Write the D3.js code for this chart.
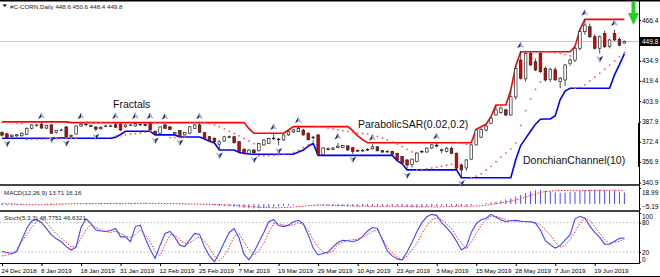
<!DOCTYPE html>
<html>
<head>
<meta charset="utf-8">
<script src="https://d3js.org/d3.v7.min.js"></script>
<style>
  body { margin: 0; background: #fff; }
  svg { display: block; font-family: "Liberation Sans", Arial, sans-serif; }
</style>
</head>
<body>
<svg id="chart" width="660" height="277"></svg>

<script>
// ---- DATA ----
// daily bars, 24 Dec 2018 .. 27 Jun 2019
const open = [379.5, 378.5, 376.5, 377, 377, 378, 382.8, 385.2, 386, 383,
  385.4, 379.5, 381.5, 383.9, 376.5, 378.4, 384.6, 386, 384.8, 383.8,
  382.5, 384.2, 384.6, 385.5, 386, 384, 385.2, 384.6, 385.6, 385.8,
  386.2, 380.5, 379, 385.4, 383.9, 378.5, 381, 377.7, 379, 382.8,
  385.4, 379.4, 376.3, 375.1, 370.5, 373, 376.3, 376.3, 372.5, 366.6,
  363.5, 366, 365.5, 370, 371.2, 375, 374.5, 373.8, 377.7, 380,
  380.2, 381.5, 379, 375.5, 377.7, 362.5, 367, 366.5, 368, 368,
  369.2, 367.8, 365.3, 365.5, 366, 367, 368.5, 365.5, 364.6, 365,
  363.5, 361, 358.4, 355, 357.1, 364.5, 364.5, 367.6, 369.8, 365.5,
  365, 367.4, 363.5, 354.5, 352.2, 359, 370, 376, 381.5, 386.7,
  393.1, 395, 397, 393.1, 407, 435.5, 421, 440.5, 434.2, 440.5,
  429.1, 420.5, 428, 419, 420.1, 433, 435.5, 444.6, 457.4, 461.2,
  453.5, 444.6, 456.1, 446, 456, 451.5, 448.6];
const high = [380.5, 379.5, 378, 378.5, 379.5, 383.5, 386, 386.2, 387.2, 385.5,
  386, 381.5, 382.5, 384.5, 378, 385, 387, 386.5, 385.8, 384.5,
  384.5, 385.6, 385.8, 387.2, 386.5, 385.8, 386, 387.2, 386.3, 386.5,
  387.2, 381.2, 384.2, 386.8, 384.5, 380, 381.5, 380, 384.5, 386,
  387, 380, 377, 375.8, 373.5, 377, 377.2, 377, 373, 367.5,
  366.8, 366.8, 371.5, 374.2, 375.5, 378.8, 375.5, 378, 380.5, 382,
  384.1, 382.5, 379.8, 377, 378.2, 368.2, 368, 368.5, 371.5, 370,
  369.8, 368.5, 366.5, 366.8, 367.5, 370.5, 369, 366.2, 366, 365.5,
  364, 361.5, 359, 359.5, 364.3, 366, 368, 370.5, 371.7, 367.2,
  368.5, 368.8, 364.2, 355.5, 359, 370.8, 382, 383, 386, 391.8,
  400.8, 399.5, 398, 412.4, 431, 441.9, 441.5, 441.8, 436.5, 441.6,
  430.5, 429.5, 430, 422.5, 432.5, 437, 446, 459, 466.9, 463.8,
  455.5, 454.5, 458, 452, 459, 453, 450.6];
const low = [376.5, 375.1, 375.8, 376.2, 376.5, 377.5, 382, 384, 382.5, 382,
  378.5, 378.8, 380.5, 375.6, 376, 378, 384, 384.5, 383.8, 380.5,
  381.8, 383.5, 383.8, 383, 380.8, 383.2, 384.5, 384, 384.8, 384.2,
  381, 377.7, 378.5, 382.5, 381.5, 378, 376.1, 377.2, 378.5, 382.5,
  379.2, 374.5, 372.8, 371.5, 366.1, 372.5, 375.5, 371, 364.2, 363.3,
  363, 362.8, 365, 369.5, 370.8, 373.8, 369.5, 373.2, 377, 379.3,
  379.8, 377.2, 373.5, 374.5, 361.9, 362.2, 365.8, 366, 367.5, 367.5,
  365.6, 363, 364.5, 364.8, 365.2, 366.5, 365, 363.8, 364, 362.3,
  357.8, 355.4, 350.7, 352.5, 356.5, 363.5, 364, 366.8, 368.2, 363.5,
  364.2, 362.8, 351.5, 344.7, 350, 358.5, 369.5, 375, 380.5, 386,
  392.5, 394, 392, 392.5, 405, 420.5, 419, 431, 427, 425.5,
  419, 418.5, 419.5, 413.7, 415.5, 431, 434, 443, 455, 452.5,
  443.5, 440.5, 444.8, 444.5, 450, 446, 448.4];
const close = [377.5, 375.8, 377.5, 377.8, 379, 382.8, 385.4, 385.4, 383, 385,
  379, 381, 381.5, 376.3, 377.3, 384.6, 386, 385.6, 384.6, 382.2,
  383.6, 384.6, 384.4, 383.6, 381.5, 385.4, 385.4, 386.2, 385.8, 385,
  381.5, 378.2, 383.9, 382.8, 382, 379.5, 376.3, 379.5, 384, 385.4,
  379.8, 375.1, 373.2, 372.5, 372.5, 376.3, 376.1, 371.7, 364.8, 363.5,
  366, 364, 371.2, 373.8, 375, 375.2, 374, 377.7, 380.2, 381.5,
  382.8, 377.7, 374, 376, 362.5, 367.6, 366.5, 367.5, 369, 369.5,
  366.1, 365, 365.6, 365.8, 366.5, 368.5, 365.5, 364.5, 365, 362.8,
  358.4, 355.9, 354.5, 359, 363.7, 365, 367.5, 370, 369, 366.3,
  367.4, 363.5, 352, 350.7, 358.4, 370, 381.5, 382, 384.6, 390.6,
  397, 398.5, 393.1, 407.2, 429, 421.4, 440.5, 431.7, 427.8, 426.5,
  420.1, 428.5, 420.2, 421.4, 431.7, 435.5, 444.6, 457.4, 462.5, 453.5,
  444.6, 453.5, 445.8, 451, 451, 447, 449.8];

// Donchian channel (10)
const donchianUpper = [387.8, 387.8, 387.8, 387.8, 387.8, 387.8, 387.8, 387.8, 387.8, 387.8,
  387.8, 387.8, 387.8, 387.8, 387.2, 387.2, 387.2, 387.2, 387.2, 387.2,
  387.2, 387.2, 387.2, 387.2, 387.2, 387.2, 387.2, 387.2, 387.2, 387.2,
  387.2, 387.2, 387.2, 387.2, 387.2, 387.2, 387.2, 387.2, 387.2, 387.2,
  387.2, 387.2, 387.2, 387.2, 387.2, 387.2, 387.2, 387.2, 387.2, 387.2,
  382.5, 379, 379, 379, 379, 379, 379, 379, 381.5, 384.1,
  384.1, 384.1, 384.1, 384.1, 384.1, 384.1, 384.1, 384.1, 384.1, 384.1,
  384.1, 381, 377, 374, 371.7, 371.7, 371.7, 371.7, 371.7, 371.7,
  371.7, 371.7, 371.7, 371.7, 371.7, 371.7, 371.7, 371.7, 371.7, 371.7,
  371.7, 371.7, 371.7, 371.7, 371.7, 371.7, 382, 384, 386, 391.8,
  400.8, 400.8, 400.8, 412.4, 431, 441.9, 441.9, 441.9, 441.9, 441.9,
  441.9, 441.9, 441.9, 441.9, 441.9, 441.9, 446, 459, 466.9, 466.9,
  466.9, 466.9, 466.9, 466.9, 466.9, 466.9, 466.9];
const donchianLower = [375.1, 375.1, 375.1, 375.1, 375.1, 375.1, 375.1, 375.1, 375.1, 375.1,
  375.1, 375.1, 375.5, 375.1, 375.1, 375.1, 375.1, 375.1, 375.1, 375.1,
  375.1, 375.1, 375.1, 376, 378, 380.5, 380.5, 380.5, 380.5, 380.5,
  380.5, 377.7, 377.7, 377.7, 377.7, 377.7, 376.1, 376.1, 376.1, 376.1,
  376.1, 374.5, 372.8, 371.5, 366.1, 366.1, 366.1, 366.1, 364.2, 363.3,
  363, 362.8, 362.8, 362.8, 362.8, 362.8, 362.8, 362.8, 362.8, 362.8,
  364.5, 366, 369, 371.2, 361.9, 361.9, 361.9, 361.9, 361.9, 361.9,
  361.9, 361.9, 361.9, 361.9, 361.9, 361.9, 361.9, 361.9, 361.9, 361.9,
  357.8, 355.4, 350.7, 350.7, 350.7, 350.7, 350.7, 350.7, 350.7, 350.7,
  350.7, 350.7, 350.7, 344.7, 344.7, 344.7, 344.7, 344.7, 344.7, 344.7,
  344.7, 344.7, 344.7, 344.7, 358.5, 369.5, 375, 380.5, 386, 389.8,
  390, 390, 392.5, 405, 411.6, 413.7, 413.7, 413.7, 413.7, 413.7,
  413.7, 413.7, 413.7, 413.7, 424, 432, 440.5];

// Parabolic SAR (0.02, 0.2)
const sar = [387.4, 387.2, 387.0, 386.8, 386.6, 374.2, 374.3, 374.4, 374.5, 374.6,
  374.7, 374.8, 374.9, 375.0, 375.0, 375.1, 387.6, 387.5, 387.4, 387.3,
  387.2, 387.1, 387.0, 376.8, 377.2, 377.7, 378.2, 378.7, 379.2, 379.7,
  380.2, 387.4, 387.3, 387.2, 375.6, 375.7, 375.8, 376.0, 387.5, 387.4,
  387.3, 387.0, 386.4, 385.4, 384.0, 382.4, 380.6, 378.8, 377.0, 375.0,
  373.0, 371.0, 361.5, 361.6, 361.8, 362.0, 362.3, 362.7, 363.3, 364.3,
  365.8, 367.8, 370.2, 372.8, 384.1, 383.7, 383.0, 382.3, 381.6, 381.0,
  380.4, 379.8, 379.1, 378.8, 378.5, 377.5, 376.5, 375.2, 373.8, 372.3,
  370.6, 368.6, 366.5, 364.6, 350.7, 351.1, 351.6, 352.2, 352.9, 353.6,
  354.3, 355.0, 371.7, 371.2, 370.5, 344.7, 345.9, 347.8, 350.5, 353.5,
  357.0, 360.5, 363.8, 367.0, 371.5, 385.0, 396.4, 405.5, 412.8, 418.6,
  441.9, 441.5, 441.1, 440.7, 439.7, 438.6, 413.7, 414.4, 416.3, 419.3,
  422.3, 425.3, 428.4, 431.6, 434.8, 438.1, 441.3];

// Fractals (bar numbers)
const upFractals = [8, 16, 23, 27, 30, 33, 40, 55, 60, 68, 75, 88, 105, 118, 124];
const downFractals = [1, 10, 13, 19, 31, 36, 44, 51, 56, 71, 82, 93, 121];

// MACD (12,26,9)
const macdMain = [-1.5, -1.6, -1.5, -1.3, -1.0, -0.6, -0.2, 0.2, 0.5, 0.7,
  0.8, 0.7, 0.6, 0.4, 0.3, 0.4, 0.6, 0.8, 0.9, 0.9,
  0.9, 0.9, 0.9, 1.0, 0.9, 0.9, 1.0, 1.0, 1.1, 0.9,
  0.6, 0.3, 0.3, 0.4, 0.2, -0.1, -0.4, -0.4, -0.2, 0.1,
  0.2, -0.3, -0.9, -1.5, -2.2, -2.5, -2.6, -3.0, -3.8, -4.5,
  -5.0, -5.19, -5.0, -4.5, -3.9, -3.3, -2.8, -2.2, -1.6, -0.9,
  -0.3, -0.1, -0.2, -0.3, -1.2, -1.8, -2.2, -2.4, -2.5, -2.6,
  -2.7, -2.8, -2.8, -2.8, -2.7, -2.6, -2.5, -2.4, -2.4, -2.4,
  -2.6, -3.0, -3.5, -4.0, -4.0, -3.7, -3.3, -2.8, -2.4, -2.1,
  -2.0, -2.0, -2.5, -3.0, -2.6, -1.6, -0.6, 0.3, 1.2, 2.0,
  2.9, 4.0, 5.3, 7.0, 8.8, 10.7, 13.2, 15.0, 16.4, 16.6,
  16.0, 14.9, 14.0, 13.4, 13.7, 14.1, 14.6, 15.5, 16.6, 17.3,
  17.4, 16.9, 16.6, 16.4, 16.0, 14.9, 13.71];
const macdSignal = [0.6, 0.4, 0.2, 0.0, -0.3, -0.5, -0.7, -0.8, -0.8, -0.7,
  -0.5, -0.3, -0.1, 0.1, 0.3, 0.4, 0.5, 0.5, 0.6, 0.6,
  0.7, 0.7, 0.8, 0.8, 0.8, 0.9, 0.9, 0.9, 0.9, 1.0,
  0.9, 0.9, 0.8, 0.7, 0.6, 0.5, 0.4, 0.2, 0.1, 0.0,
  0.0, -0.1, -0.2, -0.4, -0.6, -0.9, -1.2, -1.6, -2.0, -2.4,
  -2.9, -3.3, -3.7, -4.0, -4.2, -4.3, -4.3, -4.1, -3.8, -3.4,
  -2.9, -2.4, -2.0, -1.6, -1.4, -1.3, -1.3, -1.4, -1.6, -1.8,
  -2.0, -2.2, -2.4, -2.5, -2.6, -2.6, -2.7, -2.7, -2.6, -2.6,
  -2.6, -2.6, -2.7, -2.8, -3.0, -3.2, -3.3, -3.3, -3.3, -3.2,
  -3.0, -2.8, -2.6, -2.5, -2.5, -2.4, -2.2, -1.8, -1.2, -0.5,
  0.4, 1.4, 2.5, 3.6, 4.8, 6.4, 8.2, 10.2, 12.2, 13.7,
  14.8, 15.4, 15.8, 16.0, 16.0, 16.0, 15.9, 15.9, 15.9, 16.0,
  16.1, 16.2, 16.3, 16.4, 16.4, 16.3, 16.16];

// Stochastic (5,3,3)
const stochMain = [21, 19, 17, 21, 45, 68, 83, 87, 80, 68,
  55, 47, 41, 31, 24, 30, 70, 88, 78, 65,
  63, 62, 64, 68, 51, 51, 41, 72, 75, 48,
  25, 7, 34, 58, 62, 50, 34, 31, 45, 58,
  56, 30, 12, 0, 18, 40, 60, 68, 48, 15,
  4, 20, 40, 60, 82, 86, 74, 72, 75, 82,
  85, 78, 55, 28, 14, 17, 20, 30, 40, 44,
  43, 41, 44, 52, 63, 70, 68, 45, 22, 12,
  6, 4, 20, 40, 62, 80, 92, 97, 95, 80,
  70, 58, 42, 24, 31, 60, 78, 86, 89, 97,
  91, 86, 82, 84, 85, 83, 82, 82, 79, 65,
  43, 35, 28, 33, 45, 55, 88, 93, 89, 73,
  60, 50, 36, 36, 42, 48, 48.7751];
const stochSignal = [12, 14, 16, 25, 42, 56, 70, 82, 87, 82,
  68, 57, 48, 40, 30, 32, 48, 65, 76, 70,
  66, 62, 60, 63, 58, 52, 50, 55, 65, 55,
  40, 22, 12, 35, 55, 55, 44, 38, 38, 46,
  52, 42, 28, 12, 2, 12, 30, 52, 58, 40,
  25, 14, 22, 38, 60, 78, 78, 75, 74, 76,
  80, 76, 65, 45, 30, 20, 17, 22, 36, 40,
  44, 45, 46, 50, 56, 62, 65, 48, 30, 18,
  10, 4, 12, 24, 38, 58, 74, 86, 90, 86,
  78, 68, 52, 38, 26, 40, 58, 75, 86, 93,
  93, 90, 86, 84, 83, 83, 82, 82, 80, 75,
  65, 55, 40, 30, 34, 45, 62, 78, 90, 84,
  72, 58, 45, 38, 40, 42, 46.6321];

// axis labels
const dateLabels = ["24 Dec 2018", "8 Jan 2019", "18 Jan 2019", "31 Jan 2019", "12 Feb 2019",
  "25 Feb 2019", "7 Mar 2019", "19 Mar 2019", "29 Mar 2019", "10 Apr 2019", "23 Apr 2019",
  "3 May 2019", "15 May 2019", "28 May 2019", "7 Jun 2019", "19 Jun 2019"];
const dateBars = [0, 8, 16, 24, 32, 40, 48, 56, 64, 72, 80, 88, 96, 104, 112, 120];
const priceTicks = [466.4, 434.9, 419.4, 403.9, 387.9, 372.4, 356.9, 340.9];
const lastPrice = 449.8;
const macdTicks = [18.99, -5.19];
const stochTicks = [100, 80, 20, 0];
const stochLevels = [80, 20];

// ---- SETUP ----
const svg = d3.select("#chart");
const plotRight = 639;

const x = d3.scaleLinear().domain([0, 126]).range([2, 624.4]);
const y = d3.scaleLinear().domain([340.9, 466.4]).range([182.6, 20]);
const yMacd = d3.scaleLinear().domain([-5.19, 18.99]).range([208.5, 188]);
const yStoch = d3.scaleLinear().domain([0, 100]).range([261.8, 212.9]);

const bars = open.map((o, i) => ({ i: i, o: o, h: high[i], l: low[i], c: close[i] }));

// frame lines
const frame = svg.append("g");
frame.append("rect").attr("x", 0).attr("y", 0).attr("width", 660).attr("height", 1.5).attr("fill", "#000");
frame.append("line").attr("x1", 0).attr("x2", plotRight).attr("y1", 185).attr("y2", 185)
  .attr("stroke", "#444").attr("stroke-width", 2);
frame.append("line").attr("x1", 0).attr("x2", plotRight).attr("y1", 211).attr("y2", 211)
  .attr("stroke", "#444").attr("stroke-width", 2);
frame.append("line").attr("x1", 0).attr("x2", plotRight).attr("y1", 263.5).attr("y2", 263.5)
  .attr("stroke", "#000");
frame.append("line").attr("x1", 0).attr("x2", 660).attr("y1", 276.5).attr("y2", 276.5)
  .attr("stroke", "#000");
frame.append("line").attr("x1", plotRight + 0.5).attr("x2", plotRight + 0.5).attr("y1", 0).attr("y2", 264)
  .attr("stroke", "#000");
frame.append("rect").attr("x", plotRight - 1).attr("y", 123).attr("width", 2).attr("height", 44).attr("fill", "#000");

// bid line
svg.append("line").attr("x1", 0).attr("x2", plotRight).attr("y1", y(lastPrice)).attr("y2", y(lastPrice))
  .attr("stroke", "#c8c8c8");

// ---- MAIN PANEL ----
const main = svg.append("g");

// Donchian channel
const line = d3.line().x((d, i) => x(i)).y(d => y(d));
main.append("path").attr("d", line(donchianUpper)).attr("fill", "none")
  .attr("stroke", "#ff0000").attr("stroke-width", 1.6);
main.append("path").attr("d", line(donchianLower)).attr("fill", "none")
  .attr("stroke", "#0000ff").attr("stroke-width", 1.6);

// SAR dots
main.selectAll("circle.sar").data(sar).join("circle")
  .attr("class", "sar")
  .attr("cx", (d, i) => x(i)).attr("cy", d => y(d))
  .attr("r", 0.9).attr("fill", "#ff5c5c");

// candles
main.selectAll("line.wick").data(bars).join("line")
  .attr("class", "wick")
  .attr("x1", d => x(d.i)).attr("x2", d => x(d.i))
  .attr("y1", d => y(d.h)).attr("y2", d => y(d.l))
  .attr("stroke", "#222").attr("stroke-width", 0.8);

main.selectAll("rect.body").data(bars).join("rect")
  .attr("class", "body")
  .attr("x", d => x(d.i) - 1.3)
  .attr("y", d => y(Math.max(d.o, d.c)))
  .attr("width", 2.6)
  .attr("height", d => Math.max(0.6, Math.abs(y(d.o) - y(d.c))))
  .attr("fill", d => d.c >= d.o ? "#fff" : "#e00000")
  .attr("stroke", "#222").attr("stroke-width", 0.7);

// fractals
const upArrow = main.selectAll("g.up").data(upFractals).join("g")
  .attr("class", "up")
  .attr("transform", d => `translate(${x(d)}, ${y(high[d]) - 6.5})`);
upArrow.append("path").attr("d", "M0,-3.5 L-3.5,3 L0,1.2 Z").attr("fill", "#1b2a6b");
upArrow.append("path").attr("d", "M0,-3.5 L3.5,3 L0,1.2 Z").attr("fill", "#a9b2d6");

const downArrow = main.selectAll("g.down").data(downFractals).join("g")
  .attr("class", "down")
  .attr("transform", d => `translate(${x(d)}, ${y(low[d]) + 5.5})`);
downArrow.append("path").attr("d", "M0,3.5 L-3.5,-3 L0,-1.2 Z").attr("fill", "#a9b2d6");
downArrow.append("path").attr("d", "M0,3.5 L3.5,-3 L0,-1.2 Z").attr("fill", "#1b2a6b");

// labels on the chart
const notes = svg.append("g").attr("font-size", "10.5px").attr("fill", "#111");
notes.append("text").attr("x", 113).attr("y", 108).text("Fractals");
notes.append("text").attr("x", 358).attr("y", 127.5).text("ParabolicSAR(0.02,0.2)");
notes.append("text").attr("x", 523).attr("y", 163.5).text("DonchianChannel(10)");

// title
svg.append("path").attr("d", "M2.5,4.5 L7,4.5 L4.75,7 Z").attr("fill", "#000");
svg.append("text").attr("x", 10).attr("y", 8.5).attr("font-size", "6.2px").attr("fill", "#222")
  .text("#C-CORN,Daily  448.6 450.6 448.4 449.8");

// green arrow
svg.append("path")
  .attr("d", "M631.5,2 L635.5,2 L635.5,13 L639,13 L633.5,25 L628,13 L631.5,13 Z")
  .attr("fill", "#1fd21f");

// price axis
const priceAxis = svg.append("g").attr("transform", `translate(${plotRight}, 0)`)
  .call(d3.axisRight(y).tickValues(priceTicks).tickSize(2).tickFormat(d3.format(".1f")));
priceAxis.select(".domain").remove();
priceAxis.selectAll("text").attr("font-size", "6.5px").attr("x", 3).attr("fill", "#000");

svg.append("rect").attr("x", plotRight + 1).attr("y", y(lastPrice) - 4.5)
  .attr("width", 20).attr("height", 9).attr("fill", "#000");
svg.append("text").attr("x", plotRight + 3).attr("y", y(lastPrice) + 2.4)
  .attr("font-size", "6.5px").attr("fill", "#fff").text(lastPrice.toFixed(1));

// ---- MACD PANEL ----
const macd = svg.append("g");
macd.selectAll("line.hist").data(macdMain).join("line")
  .attr("class", "hist")
  .attr("x1", (d, i) => x(i)).attr("x2", (d, i) => x(i))
  .attr("y1", yMacd(0)).attr("y2", d => yMacd(d))
  .attr("stroke", "#4d4dff").attr("stroke-width", 1);
macd.append("path")
  .attr("d", d3.line().x((d, i) => x(i)).y(d => yMacd(d))(macdSignal))
  .attr("fill", "none").attr("stroke", "#ff3030").attr("stroke-width", 1)
  .attr("stroke-dasharray", "1.5,1.5");
macd.append("text").attr("x", 4).attr("y", 194.5).attr("font-size", "6.2px").attr("fill", "#222")
  .text("MACD(12,26,9) 13.71 16.16");

const macdAxis = svg.append("g").attr("transform", `translate(${plotRight}, 0)`)
  .call(d3.axisRight(yMacd).tickValues(macdTicks).tickSize(2).tickFormat(d3.format(".2f")));
macdAxis.select(".domain").remove();
macdAxis.selectAll("text").attr("font-size", "6.5px").attr("x", 3).attr("fill", "#000")
  .attr("dy", d => d > 0 ? "0.95em" : "-0.05em");

// ---- STOCHASTIC PANEL ----
const stoch = svg.append("g");
stoch.selectAll("line.level").data(stochLevels).join("line")
  .attr("class", "level")
  .attr("x1", 0).attr("x2", plotRight)
  .attr("y1", d => yStoch(d)).attr("y2", d => yStoch(d))
  .attr("stroke", "#bbb").attr("stroke-dasharray", "1.5,2");
stoch.append("path")
  .attr("d", d3.line().x((d, i) => x(i)).y(d => yStoch(d))(stochSignal))
  .attr("fill", "none").attr("stroke", "#ff3030").attr("stroke-width", 1)
  .attr("stroke-dasharray", "1.5,1.5");
stoch.append("path")
  .attr("d", d3.line().x((d, i) => x(i)).y(d => yStoch(d))(stochMain))
  .attr("fill", "none").attr("stroke", "#4646ff").attr("stroke-width", 1.1);
stoch.append("text").attr("x", 4).attr("y", 219.5).attr("font-size", "6.2px").attr("fill", "#222")
  .text("Stoch(5,3,3) 48.7751 46.6321");

const stochAxis = svg.append("g").attr("transform", `translate(${plotRight}, 0)`)
  .call(d3.axisRight(yStoch).tickValues(stochTicks).tickSize(2));
stochAxis.select(".domain").remove();
stochAxis.selectAll("text").attr("font-size", "6.5px").attr("x", 3).attr("fill", "#000")
  .attr("dy", d => d === 100 ? "0.9em" : d === 0 ? "0em" : "0.32em");

// ---- DATE AXIS ----
const dateAxis = svg.append("g").attr("transform", "translate(0, 263.5)")
  .call(d3.axisBottom(x).tickValues(dateBars).tickSize(2.5).tickFormat((d, i) => dateLabels[i]));
dateAxis.select(".domain").remove();
dateAxis.selectAll("text").attr("font-size", "6.2px").attr("text-anchor", "start")
  .attr("x", -1).attr("y", 5).attr("fill", "#000");
</script>
</body>
</html>
